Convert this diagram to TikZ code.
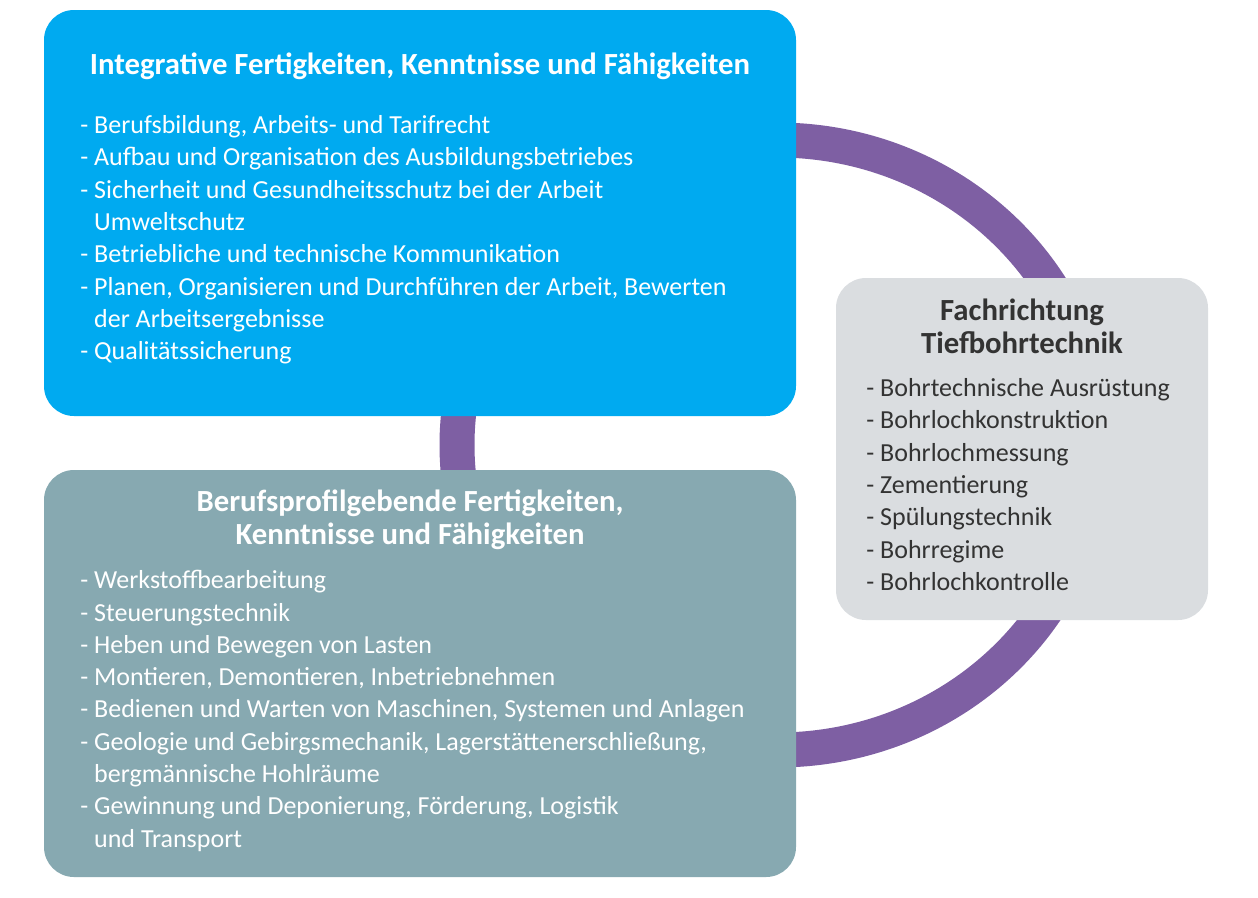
\documentclass[tikz,border=0pt]{standalone}
\usepackage{fontspec}
\setmainfont{Carlito}
\usepackage{tikz}

\definecolor{blueBox}{RGB}{0,170,240}
\definecolor{tealBox}{RGB}{135,169,177}
\definecolor{greyBox}{RGB}{218,221,224}
\definecolor{ring}{RGB}{126,95,163}
\definecolor{darkText}{RGB}{51,51,51}

\begin{document}
\begin{tikzpicture}[x=0.02cm,y=-0.02cm,
  box/.style={rounded corners=0.6cm},
  head/.style={font=\bfseries\fontsize{17.5}{18.4}\selectfont,align=center,anchor=north,inner sep=0pt},
  items/.style={font=\fontsize{14.8}{18.4}\selectfont,align=left,anchor=north west,inner sep=0pt}]
\useasboundingbox (0,0) rectangle (1258,897);
\newcommand{\ind}{\phantom{- }}
% ring
\draw[ring,line width=0.7cm] (777,445) ellipse [x radius=320,y radius=305];
% boxes
\fill[blueBox,box] (44,10) rectangle (796,416);
\fill[tealBox,box] (44,470) rectangle (796,877);
\fill[greyBox,box] (836,278) rectangle (1208,620);
% integrative
\node[head,white] (intHead) at (420,53) {Integrative Fertigkeiten, Kenntnisse und Fähigkeiten};
\node[items,white] (intList) at (80,115) {- Berufsbildung, Arbeits- und Tarifrecht\\
- Aufbau und Organisation des Ausbildungsbetriebes\\
- Sicherheit und Gesundheitsschutz bei der Arbeit\\
\ind Umweltschutz\\
- Betriebliche und technische Kommunikation\\
- Planen, Organisieren und Durchführen der Arbeit, Bewerten\\
\ind der Arbeitsergebnisse\\
- Qualitätssicherung};
% berufsprofilgebend
\node[head,white] (berHead) at (410,490) {Berufsprofilgebende Fertigkeiten,\\Kenntnisse und Fähigkeiten};
\node[items,white] (berList) at (80,570) {- Werkstoffbearbeitung\\
- Steuerungstechnik\\
- Heben und Bewegen von Lasten\\
- Montieren, Demontieren, Inbetriebnehmen\\
- Bedienen und Warten von Maschinen, Systemen und Anlagen\\
- Geologie und Gebirgsmechanik, Lagerstättenerschließung,\\
\ind bergmännische Hohlräume\\
- Gewinnung und Deponierung, Förderung, Logistik\\
\ind und Transport};
% fachrichtung
\node[head,darkText] (fachHead) at (1022,299) {Fachrichtung\\Tiefbohrtechnik};
\node[items,darkText] (fachList) at (866,378) {- Bohrtechnische Ausrüstung\\
- Bohrlochkonstruktion\\
- Bohrlochmessung\\
- Zementierung\\
- Spülungstechnik\\
- Bohrregime\\
- Bohrlochkontrolle};
\end{tikzpicture}
\end{document}
